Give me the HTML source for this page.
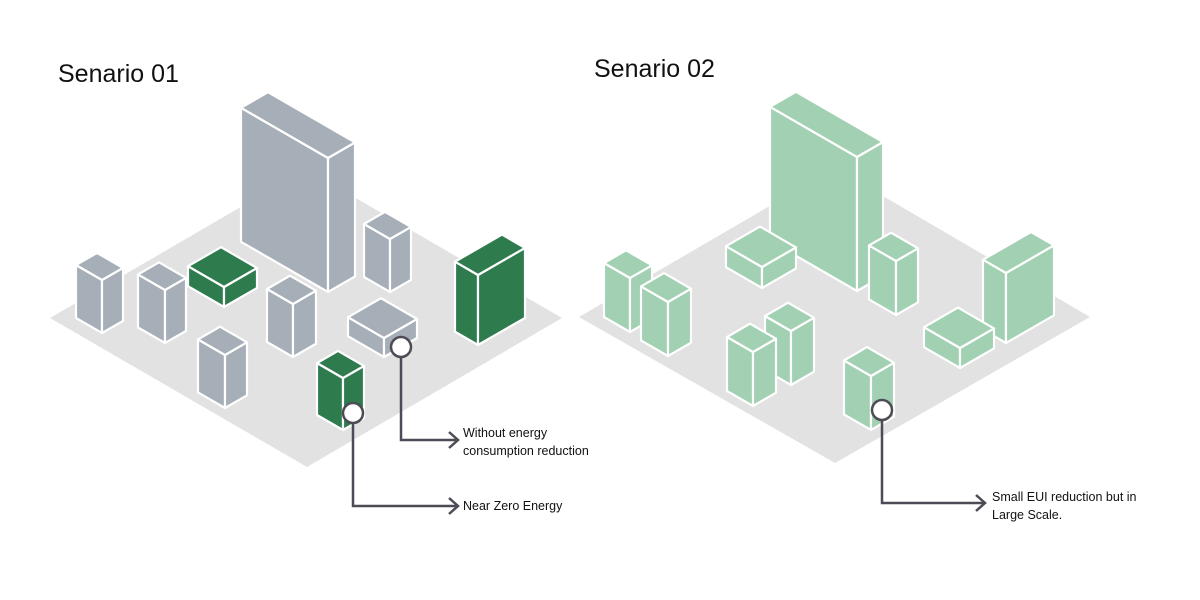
<!DOCTYPE html>
<html><head><meta charset="utf-8"><style>
html,body{margin:0;padding:0;background:#fff;}
#w{position:relative;width:1200px;height:600px;overflow:hidden;font-family:"Liberation Sans",sans-serif;}
svg{position:absolute;left:0;top:0}
.t{position:absolute;font-size:25px;color:#111;white-space:nowrap}
.l{position:absolute;font-size:12.5px;color:#111;line-height:18px;white-space:nowrap}
</style></head><body><div id="w">
<svg id="s" width="1200" height="600" viewBox="0 0 1200 600"></svg>
<div class="t" style="left:58px;top:60px">Senario 01</div>
<div class="t" style="left:594px;top:55px">Senario 02</div>
<div class="l" style="left:463px;top:424px">Without energy<br>consumption reduction</div>
<div class="l" style="left:463px;top:497px">Near Zero Energy</div>
<div class="l" style="left:992px;top:488px">Small EUI reduction but in<br>Large Scale.</div>
</div>
<script>
var k=0.577,out='';
function poly(pts,f){out+='<polygon points="'+pts.map(function(p){return p[0].toFixed(1)+','+p[1].toFixed(1)}).join(' ')+'" fill="'+f+'" stroke="#fff" stroke-width="2.2" stroke-linejoin="round"/>';}
function box(x,y,a,b,h,c){
var P=[x,y],L=[x-a,y-k*a],R=[x+b,y-k*b];
function up(p){return [p[0],p[1]-h];}
var B=[L[0]+R[0]-x,L[1]+R[1]-y];
poly([P,L,up(L),up(P)],c);poly([P,R,up(R),up(P)],c);poly([up(P),up(L),up(B),up(R)],c);}
var G='#a6aeb8',D='#2e7b4e',E='#a1d0b2';
poly([[50,318],[306,169],[562,318],[307,467]],'#e2e2e2');
poly([[579,317],[835,168],[1090,317],[835,463]],'#e2e2e2');
out=out.replace(/stroke="#fff" stroke-width="2.2"/g,'stroke="none"');
box(328,292,87,27,134,G);box(390,292,26,21,53,G);box(224,307,36,33,20,D);
box(102,333,26,21,53,G);box(165,343,27,21,53,G);box(478,345,23,47,70,D);
box(293,357,26,23,53,G);box(384,357,36,33,19,G);box(225,408,27,22,53,G);box(343,430,26,21,52,D);
box(857,291,87,26,134,E);box(762,288,36,34,21,E);box(896,315,27,22,54,E);
box(630,332,26,22,54,E);box(1006,343,23,48,70,E);box(668,356,27,23,54,E);
box(960,368,36,34,20,E);box(791,385,26,23,54,E);box(753,406,26,23,54,E);box(871,430,27,23,54,E);
function lead(cx,cy,yy,tx){
out+='<polyline points="'+cx+','+cy+' '+cx+','+yy+' '+tx+','+yy+'" fill="none" stroke="#4d4b55" stroke-width="2.5"/>';
out+='<polyline points="'+(tx-9)+','+(yy-8)+' '+tx+','+yy+' '+(tx-9)+','+(yy+8)+'" fill="none" stroke="#4d4b55" stroke-width="2.5"/>';
out+='<circle cx="'+cx+'" cy="'+cy+'" r="10" fill="#fff" stroke="#4d4b55" stroke-width="2.5"/>';}
lead(401,347,440,458);lead(353,413,506,458);lead(882,410,503,985);
document.getElementById('s').innerHTML=out;
</script>
</body></html>
